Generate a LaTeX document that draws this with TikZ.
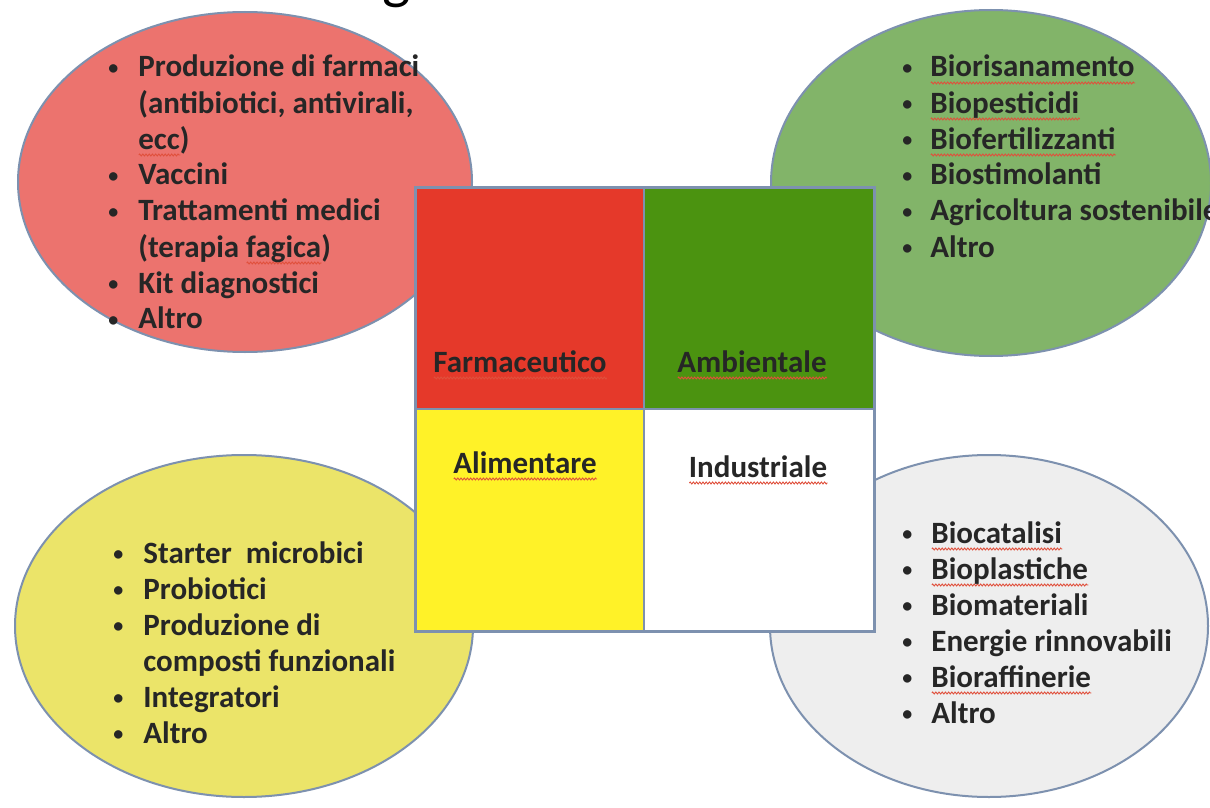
\documentclass[tikz,border=0pt]{standalone}
\usepackage{fontspec}
\setmainfont{Carlito}
\usetikzlibrary{shapes.geometric,decorations.pathmorphing}

\definecolor{edgeblue}{HTML}{7D91AF}
\definecolor{farmaback}{HTML}{EC736E}
\definecolor{farmared}{HTML}{E5392A}
\definecolor{ambiback}{HTML}{82B469}
\definecolor{ambigreen}{HTML}{4B9310}
\definecolor{alimback}{HTML}{EBE469}
\definecolor{alimyellow}{HTML}{FFF228}
\definecolor{indusback}{HTML}{EEEEEE}
\definecolor{textdark}{HTML}{262626}
\definecolor{spellred}{HTML}{E0503C}

% wavy spell-check underline
\newlength\spellwd
\newcommand\spell[1]{\settowidth\spellwd{#1}\rlap{\tikz[baseline=0pt]\draw[spellred, line width=0.45pt,
  decorate, decoration={zigzag, amplitude=0.5pt, segment length=1.6pt}] (0pt,-3pt) -- (\spellwd,-3pt);}#1}
\newcommand\blt{\raisebox{1.2pt}{\fontsize{10pt}{10pt}\selectfont\textbullet}}
\newcommand\listfont{\fontsize{15.5pt}{18pt}\selectfont\bfseries}

\tikzset{
  blob/.style={ellipse, draw=edgeblue, line width=1pt, inner sep=0pt},
  cell/.style={rectangle, draw=edgeblue, line width=0.8pt, inner sep=0pt,
    minimum width=114pt, minimum height=110.5pt, anchor=north west},
  lbl/.style={font=\listfont, text=textdark, anchor=base, inner sep=0pt},
  itemlist/.style={font=\listfont, text=textdark, anchor=base west, inner sep=0pt},
}

\begin{document}
\begin{tikzpicture}[x=0.5pt,y=-0.5pt]
  \useasboundingbox (0,0) rectangle (1210,808);
  \clip (0,0) rectangle (1210,808);
  \fill[white] (0,0) rectangle (1210,808);

  % cut-off title
  \node[font=\fontsize{30pt}{36pt}\selectfont, anchor=base, inner sep=0pt] (title) at (397,-2) {g};

  % sector ellipses
  \node[blob, fill=farmaback, minimum width=227pt, minimum height=170pt] (farma) at (245,182) {};
  \node[blob, fill=ambiback, minimum width=220pt, minimum height=173pt] (ambi) at (991,183) {};
  \node[blob, fill=alimback, minimum width=229pt, minimum height=171pt] (alim) at (244,626) {};
  \node[blob, fill=indusback, minimum width=219pt, minimum height=171pt] (indus) at (989,626) {};

  % lists
  \node[itemlist] (farmalist) at (108,77) {%
    \begin{tabular}[t]{@{}p{15pt}@{}l@{}}
      \blt & Produzione di farmaci\\
           & (antibiotici, antivirali,\\
           & \spell{ecc})\\
      \blt & Vaccini\\
      \blt & Trattamenti medici\\
           & (terapia \spell{fagica})\\
      \blt & Kit diagnostici\\
      \blt & Altro
    \end{tabular}};
  \node[itemlist] (ambilist) at (902,77) {%
    \begin{tabular}[t]{@{}p{14pt}@{}l@{}}
      \blt & \spell{Biorisanamento}\\
      \blt & \spell{Biopesticidi}\\
      \blt & \spell{Biofertilizzanti}\\
      \blt & Biostimolanti\\
      \blt & Agricoltura sostenibile\\
      \blt & Altro
    \end{tabular}};
  \node[itemlist] (alimlist) at (113,563) {%
    \begin{tabular}[t]{@{}p{15pt}@{}l@{}}
      \blt & Starter\ \ microbici\\
      \blt & Probiotici\\
      \blt & Produzione di\\
           & composti funzionali\\
      \blt & Integratori\\
      \blt & Altro
    \end{tabular}};
  \node[itemlist] (induslist) at (902,543) {%
    \begin{tabular}[t]{@{}p{14.5pt}@{}l@{}}
      \blt & \spell{Biocatalisi}\\
      \blt & \spell{Bioplastiche}\\
      \blt & Biomateriali\\
      \blt & Energie rinnovabili\\
      \blt & \spell{Bioraffinerie}\\
      \blt & Altro
    \end{tabular}};

  % central square
  \node[cell, fill=farmared] (farmacell) at (415,187) {};
  \node[cell, fill=ambigreen, minimum width=115pt] (ambicell) at (643,187) {};
  \node[cell, fill=alimyellow, minimum height=111pt] (alimcell) at (415,408) {};
  \node[cell, fill=white, minimum width=115pt, minimum height=111pt] (induscell) at (643,408) {};
  \draw[edgeblue, line width=1.2pt] (farmacell.north west) rectangle (induscell.south east);

  \node[lbl] (farmalbl) at (520,372) {\spell{Farmaceutico}};
  \node[lbl] (ambilbl) at (752,372) {\spell{Ambientale}};
  \node[lbl] (alimlbl) at (525,473) {\spell{Alimentare}};
  \node[lbl] (induslbl) at (758,477) {\spell{Industriale}};
\end{tikzpicture}
\end{document}
